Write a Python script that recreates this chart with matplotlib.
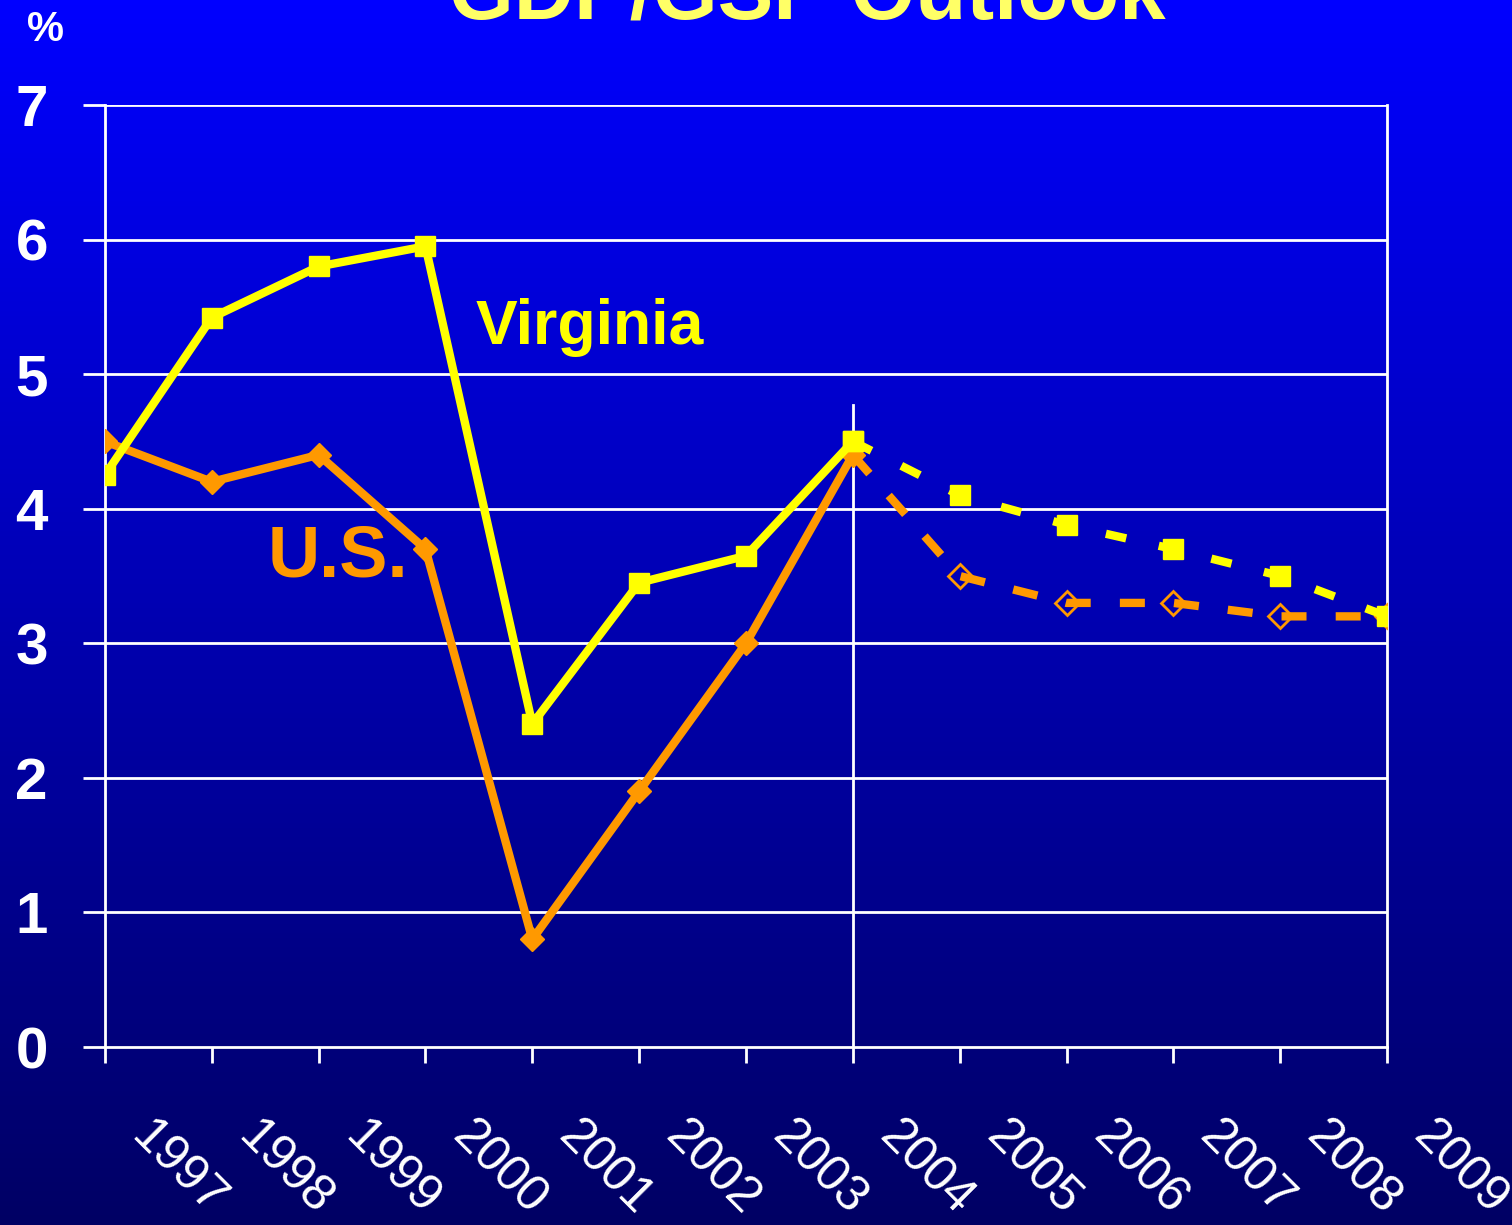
import numpy as np
import matplotlib
matplotlib.use("Agg")
import matplotlib.pyplot as plt
import matplotlib.transforms as mtransforms

plt.rcParams['font.family'] = ['Liberation Sans', 'DejaVu Sans']

# dane
years = [1997, 1998, 1999, 2000, 2001, 2002, 2003, 2004, 2005, 2006, 2007, 2008, 2009]
va_hist_years = [1997, 1998, 1999, 2000, 2001, 2002, 2003, 2004]
va_hist = [4.25, 5.42, 5.8, 5.95, 2.4, 3.45, 3.65, 4.5]
us_hist = [4.5, 4.2, 4.4, 3.7, 0.8, 1.9, 3.0, 4.4]
fc_years = [2004, 2005, 2006, 2007, 2008, 2009]
va_fc = [4.5, 4.1, 3.88, 3.7, 3.5, 3.2]
us_fc = [4.4, 3.5, 3.3, 3.3, 3.2, 3.2]
yticks = [0, 1, 2, 3, 4, 5, 6, 7]

YELLOW = '#FFFF00'
ORANGE = '#FF9900'

fig = plt.figure(figsize=(15.12, 12.25), dpi=100)

# tlo - gradient
bg = fig.add_axes([0, 0, 1, 1], zorder=-10)
grad = np.linspace(0, 1, 256).reshape(-1, 1)
top = np.array([0, 0, 255]) / 255
bot = np.array([0, 0, 100]) / 255
img = top[None, None, :] * (1 - grad[:, :, None]) + bot[None, None, :] * grad[:, :, None]
bg.imshow(img, aspect='auto', extent=[0, 1, 0, 1])
bg.axis('off')

ax = fig.add_axes([0.0694, 0.1453, 0.848, 0.769])
ax.patch.set_alpha(0)
ax.set_xlim(1997, 2009)
ax.set_ylim(0, 7)

for s in ax.spines.values():
    s.set_color('white')
    s.set_linewidth(2)
ax.spines['top'].set_visible(False)

for y in yticks[1:]:
    ax.axhline(y, color='white', lw=2, zorder=1)
ax.plot([2004, 2004], [0, 4.77], color='white', lw=2, zorder=1)

ax.set_yticks(yticks)
ax.set_yticklabels([str(y) for y in yticks], fontsize=42, fontweight='bold', color='white')
ax.tick_params(axis='y', direction='out', length=16, width=2, color='white', pad=25)

ax.set_xticks(years)
ax.set_xticklabels([str(y) for y in years], fontsize=36, color='white',
                   rotation=-45, ha='left', va='top', rotation_mode='anchor')
ax.tick_params(axis='x', direction='out', length=11.5, width=2, color='white', pad=0)
off = mtransforms.ScaledTranslation(0.50, -0.50, fig.dpi_scale_trans)
for lab in ax.get_xticklabels():
    lab.set_transform(lab.get_transform() + off)

# linie historyczne
ax.plot(va_hist_years, us_hist, color=ORANGE, lw=6, marker='D', ms=12,
        mfc=ORANGE, mec=ORANGE, zorder=3)
ax.plot(va_hist_years, va_hist, color=YELLOW, lw=6, marker='s', ms=14,
        mfc=YELLOW, mec=YELLOW, zorder=4)

# prognoza
ax.plot(fc_years, us_fc, color=ORANGE, lw=6, dashes=(3, 3.5), zorder=3)
ax.plot(fc_years[1:], us_fc[1:], ls='none', marker='D', ms=12, mfc='none',
        mec=ORANGE, mew=2, zorder=3)
ax.plot(fc_years, va_fc, color=YELLOW, lw=6, dashes=(2.5, 4), marker='s', ms=14,
        mfc=YELLOW, mec=YELLOW, zorder=4)

ax.text(2001.54, 5.35, 'Virginia', color=YELLOW, fontsize=45, fontweight='bold',
        ha='center', va='center', zorder=5)
ax.text(1999.18, 3.64, 'U.S.', color=ORANGE, fontsize=52, fontweight='bold',
        ha='center', va='center', zorder=5)

fig.text(0.030, 1 - 30 / 1225, '%', color='white', fontsize=30, fontweight='bold',
         ha='center', va='center')
fig.text(0.534, 1 - 18 / 1225, 'GDP/GSP Outlook', color='#FFFF66', fontsize=60,
         fontweight='bold', ha='center', va='baseline')

fig.savefig('out.png', dpi=100)
